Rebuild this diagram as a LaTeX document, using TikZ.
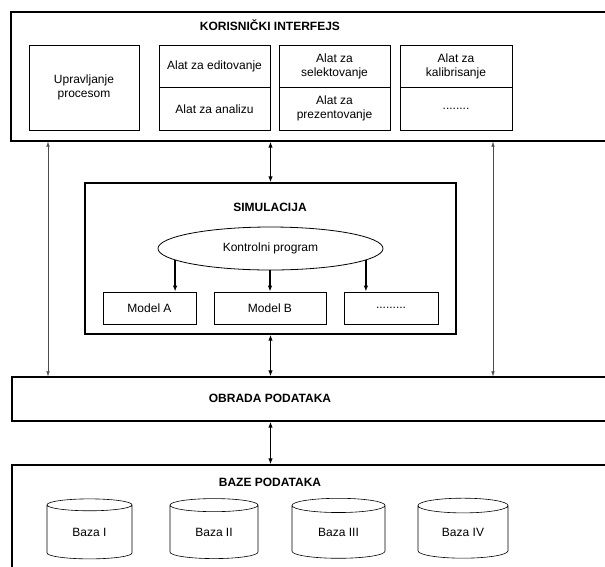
\documentclass[tikz,border=0pt]{standalone}
\usepackage{fontspec}
\setmainfont{Liberation Sans}
\usetikzlibrary{shapes.geometric,arrows.meta}

\tikzset{
    layer/.style={draw, line width=1.3pt, inner sep=0pt},
    tool/.style={draw, line width=0.8pt, inner sep=0pt, align=center},
    base/.style={draw, line width=0.6pt, cylinder, shape border rotate=90, aspect=0.35, inner sep=0pt},
    bigarr/.style={line width=1.3pt, -{Latex[length=6pt,width=4.5pt]}},
    bigboth/.style={line width=1.3pt, {Latex[length=6pt,width=4.5pt]}-{Latex[length=6pt,width=4.5pt]}},
    thinboth/.style={line width=0.5pt, black!70, {Latex[length=5pt,width=3.5pt]}-{Latex[length=5pt,width=3.5pt]}}
}

\begin{document}
\begin{tikzpicture}[x=1pt, y=-1pt, font=\fontsize{12}{14}\selectfont]
        \useasboundingbox (0, 0) rectangle (605, 566);
        \clip (0, 0) rectangle (605, 566);

        \node[layer, minimum width=604pt, minimum height=129pt] (ui) at (313, 76.5) {};
        \node[font=\fontsize{12}{14}\selectfont\bfseries] (uititle) at (270, 25) {KORISNIČKI INTERFEJS};
        \node[tool, minimum width=110pt, minimum height=85pt] (upr) at (84, 87.5) {Upravljanje\\procesom};
        \node[tool, minimum width=111pt, minimum height=42.5pt] (edit) at (214.5, 66.25) {Alat za editovanje};
        \node[tool, minimum width=111pt, minimum height=42.5pt] (anal) at (214.5, 108.75) {Alat za analizu};
        \node[tool, minimum width=111pt, minimum height=42.5pt] (sel) at (334.5, 66.25) {Alat za\\selektovanje};
        \node[tool, minimum width=111pt, minimum height=42.5pt] (prez) at (334.5, 108.75) {Alat za\\prezentovanje};
        \node[tool, minimum width=112pt, minimum height=42.5pt] (kal) at (456, 66.25) {Alat za\\kalibrisanje};
        \node[tool, minimum width=112pt, minimum height=42.5pt] (uidots) at (456, 108.75) {........};

        \node[layer, minimum width=371pt, minimum height=151pt] (sim) at (270.5, 258.5) {};
        \node[font=\fontsize{12}{14}\selectfont\bfseries] (simtitle) at (270, 207) {SIMULACIJA};
        \node[tool, ellipse, minimum width=225pt, minimum height=43pt] (kp) at (270.5, 248.5) {Kontrolni program};
        \node[tool, minimum width=93pt, minimum height=32pt] (ma) at (149.5, 308) {Model A};
        \node[tool, minimum width=112pt, minimum height=32pt] (mb) at (270, 308) {Model B};
        \node[tool, minimum width=94pt, minimum height=32pt] (mdots) at (391, 308) {.........};

        \draw[bigarr] (kp.187) -- (kp.187 |- ma.north);
        \draw[bigarr] (kp.south -| mb.north) -- (mb.north);
        \draw[bigarr] (kp.353) -- (kp.353 |- mdots.north);

        \node[layer, minimum width=603pt, minimum height=44pt] (obr) at (313.5, 399) {};
        \node[font=\fontsize{12}{14}\selectfont\bfseries] (obrtitle) at (270, 398) {OBRADA PODATAKA};

        \node[layer, minimum width=603pt, minimum height=135pt] (baze) at (313.5, 532.5) {};
        \node[font=\fontsize{12}{14}\selectfont\bfseries] (bazetitle) at (270, 482) {BAZE PODATAKA};
        \node[base, minimum width=85pt, minimum height=60pt] (b1) at (89.5, 532) {Baza I};
        \node[base, minimum width=88pt, minimum height=60pt] (b2) at (214, 532) {Baza II};
        \node[base, minimum width=93pt, minimum height=60pt] (b3) at (338.5, 532) {Baza III};
        \node[base, minimum width=90pt, minimum height=60pt] (b4) at (463, 532) {Baza IV};

        \coordinate (lx) at (48, 0);
        \coordinate (rx) at (493, 0);
        \draw[thinboth] (ui.south -| lx) -- (obr.north -| lx);
        \draw[thinboth] (ui.south -| rx) -- (obr.north -| rx);
        \draw[bigboth] (ui.south -| sim.north) -- (sim.north);
        \draw[bigboth] (sim.south) -- (obr.north -| sim.south);
        \draw[bigboth] (obr.south -| sim.south) -- (baze.north -| sim.south);
\end{tikzpicture}
\end{document}
